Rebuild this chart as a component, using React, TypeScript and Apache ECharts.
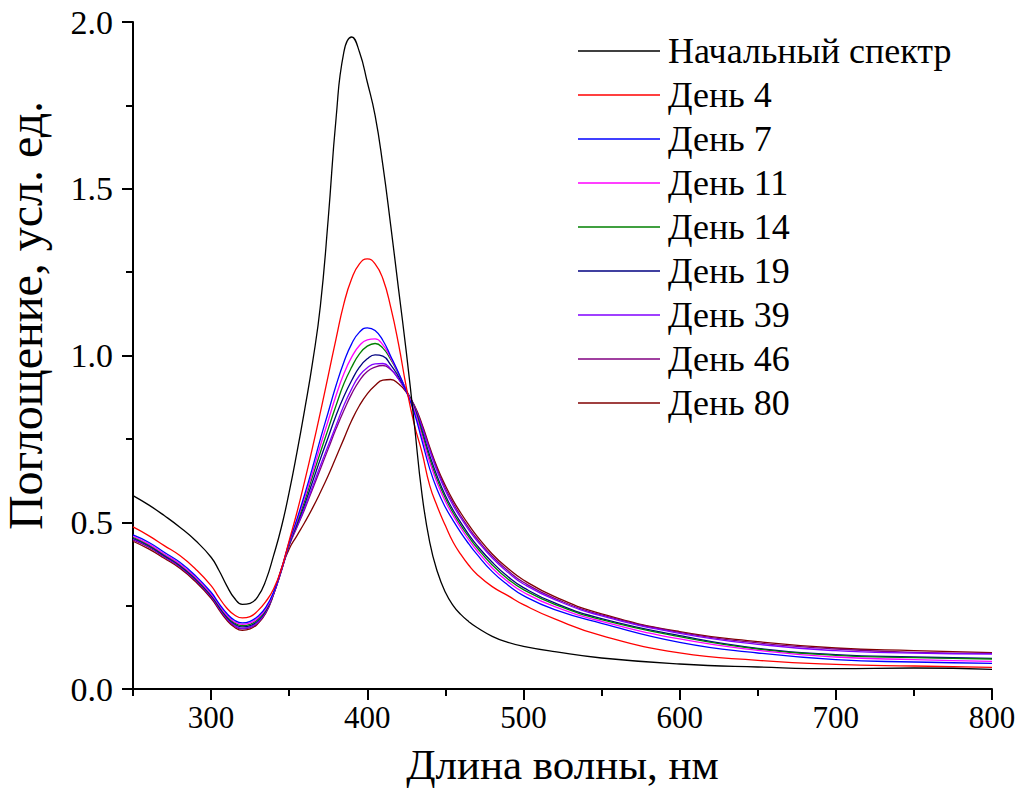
import React, { useEffect, useRef } from "react";
import * as echarts from "echarts";

const wavelengths = [250, 260, 270, 280, 290, 300, 305, 310, 315, 320, 325, 330, 335, 340, 345, 350, 355, 360, 365, 370, 375, 380, 385, 390, 395, 400, 405, 410, 415, 420, 425, 430, 435, 440, 445, 450, 455, 460, 465, 470, 480, 490, 500, 520, 550, 600, 650, 700, 750, 800];

const initial = [0.58, 0.552, 0.52, 0.485, 0.445, 0.395, 0.356, 0.31, 0.272, 0.254, 0.257, 0.278, 0.325, 0.40, 0.485, 0.59, 0.71, 0.84, 0.98, 1.15, 1.41, 1.71, 1.91, 1.955, 1.91, 1.82, 1.72, 1.57, 1.39, 1.20, 1.01, 0.80, 0.585, 0.44, 0.35, 0.29, 0.25, 0.223, 0.202, 0.185, 0.158, 0.14, 0.128, 0.112, 0.093, 0.075, 0.066, 0.061, 0.063, 0.059];
const day4 = [0.486, 0.46, 0.43, 0.40, 0.36, 0.31, 0.275, 0.243, 0.222, 0.213, 0.217, 0.235, 0.262, 0.30, 0.36, 0.445, 0.53, 0.625, 0.725, 0.83, 0.94, 1.05, 1.155, 1.23, 1.275, 1.29, 1.275, 1.23, 1.145, 1.035, 0.905, 0.795, 0.71, 0.61, 0.545, 0.49, 0.44, 0.403, 0.371, 0.345, 0.307, 0.28, 0.253, 0.21, 0.16, 0.108, 0.086, 0.074, 0.069, 0.065];
const day7 = [0.462, 0.44, 0.41, 0.38, 0.34, 0.29, 0.257, 0.227, 0.206, 0.198, 0.203, 0.218, 0.245, 0.29, 0.36, 0.44, 0.51, 0.585, 0.665, 0.75, 0.83, 0.91, 0.98, 1.035, 1.07, 1.083, 1.075, 1.045, 0.998, 0.948, 0.892, 0.83, 0.745, 0.66, 0.595, 0.545, 0.505, 0.468, 0.435, 0.405, 0.352, 0.312, 0.28, 0.238, 0.197, 0.14, 0.108, 0.088, 0.081, 0.077];
const day11 = [0.458, 0.435, 0.405, 0.375, 0.335, 0.285, 0.253, 0.222, 0.201, 0.194, 0.198, 0.213, 0.24, 0.288, 0.358, 0.438, 0.505, 0.575, 0.65, 0.73, 0.805, 0.88, 0.945, 0.995, 1.03, 1.047, 1.05, 1.032, 0.993, 0.947, 0.895, 0.838, 0.758, 0.68, 0.615, 0.562, 0.52, 0.482, 0.447, 0.416, 0.363, 0.322, 0.29, 0.247, 0.203, 0.15, 0.116, 0.096, 0.088, 0.083];
const day14 = [0.455, 0.432, 0.403, 0.373, 0.333, 0.283, 0.25, 0.219, 0.198, 0.19, 0.194, 0.209, 0.237, 0.287, 0.357, 0.436, 0.5, 0.565, 0.638, 0.71, 0.78, 0.85, 0.915, 0.965, 1.005, 1.028, 1.036, 1.022, 0.988, 0.945, 0.896, 0.842, 0.768, 0.69, 0.625, 0.572, 0.528, 0.49, 0.456, 0.425, 0.372, 0.33, 0.298, 0.254, 0.208, 0.157, 0.12, 0.101, 0.094, 0.09];
const day19 = [0.452, 0.43, 0.40, 0.37, 0.33, 0.28, 0.247, 0.216, 0.195, 0.186, 0.19, 0.205, 0.234, 0.286, 0.356, 0.434, 0.494, 0.555, 0.622, 0.69, 0.755, 0.82, 0.877, 0.925, 0.965, 0.99, 1.002, 0.998, 0.972, 0.937, 0.895, 0.845, 0.775, 0.70, 0.635, 0.58, 0.536, 0.498, 0.463, 0.432, 0.38, 0.337, 0.304, 0.258, 0.211, 0.16, 0.122, 0.103, 0.096, 0.092];
const day39 = [0.45, 0.428, 0.398, 0.368, 0.328, 0.278, 0.244, 0.213, 0.191, 0.182, 0.186, 0.201, 0.231, 0.285, 0.355, 0.432, 0.488, 0.545, 0.607, 0.67, 0.73, 0.79, 0.85, 0.90, 0.94, 0.963, 0.975, 0.976, 0.96, 0.93, 0.893, 0.848, 0.785, 0.715, 0.65, 0.595, 0.55, 0.512, 0.477, 0.446, 0.393, 0.35, 0.315, 0.268, 0.219, 0.167, 0.134, 0.115, 0.108, 0.105];
const day46 = [0.447, 0.425, 0.396, 0.366, 0.326, 0.276, 0.242, 0.211, 0.189, 0.18, 0.184, 0.199, 0.229, 0.284, 0.354, 0.43, 0.485, 0.54, 0.60, 0.66, 0.72, 0.78, 0.835, 0.885, 0.925, 0.952, 0.965, 0.97, 0.958, 0.93, 0.893, 0.85, 0.79, 0.72, 0.656, 0.602, 0.557, 0.518, 0.483, 0.452, 0.398, 0.355, 0.32, 0.272, 0.222, 0.17, 0.138, 0.12, 0.11, 0.107];
const day80 = [0.443, 0.42, 0.392, 0.362, 0.322, 0.272, 0.238, 0.207, 0.185, 0.176, 0.18, 0.196, 0.227, 0.283, 0.36, 0.42, 0.46, 0.50, 0.543, 0.59, 0.64, 0.695, 0.75, 0.805, 0.85, 0.885, 0.91, 0.926, 0.928, 0.915, 0.89, 0.852, 0.795, 0.725, 0.662, 0.61, 0.565, 0.527, 0.492, 0.46, 0.405, 0.362, 0.327, 0.277, 0.225, 0.172, 0.142, 0.123, 0.115, 0.109];

const seriesNames = ["Начальный спектр", "День 4", "День 7", "День 11", "День 14", "День 19", "День 39", "День 46", "День 80"];
const seriesValues = [initial, day4, day7, day11, day14, day19, day39, day46, day80];
const seriesColors = ["#000000", "#ff0000", "#0000ff", "#ff00ff", "#008000", "#000080", "#8000ff", "#800080", "#800000"];

const xMajorTicks = [300, 400, 500, 600, 700, 800];
const xMinorTicks = [250, 350, 450, 550, 650, 750];

const xTitle = "Длина волны, нм";
const yTitle = "Поглощение, усл. ед.";

const FONT = "'Liberation Serif', 'Times New Roman', serif";

export default function App() {
  const ref = useRef<HTMLDivElement>(null);
  useEffect(() => {
    if (!ref.current) return;
    const chart = echarts.init(ref.current, null, { renderer: "svg" });
    const series = seriesNames.map((name, i) => ({
      name,
      type: "line",
      xAxisIndex: 0,
      yAxisIndex: 0,
      data: wavelengths.map((w, j) => [w, seriesValues[i][j]]),
      smooth: 0.5,
      symbol: "none",
      lineStyle: { color: seriesColors[i], width: 1.3 },
      itemStyle: { color: seriesColors[i] },
      z: 10 - i,
    }));
    chart.setOption({
      animation: false,
      backgroundColor: "#ffffff",
      textStyle: { fontFamily: FONT },
      grid: { left: 133, right: 27, top: 22, bottom: 103, containLabel: false, outerBoundsMode: "none" },
      legend: {
        orient: "vertical",
        left: 578,
        top: 32,
        padding: 0,
        icon: "rect",
        itemWidth: 82,
        itemHeight: 1.6,
        itemGap: 6,
        data: seriesNames,
        textStyle: { fontFamily: FONT, fontSize: 36, color: "#000", lineHeight: 38, padding: [0, 0, 0, 3] },
      },
      xAxis: [
        {
          type: "value",
          min: 250,
          max: 800,
          interval: 50,
          name: xTitle,
          nameLocation: "middle",
          nameGap: 54,
          nameTextStyle: { fontFamily: FONT, fontSize: 43, color: "#000" },
          axisLine: { show: true, onZero: false, lineStyle: { color: "#000", width: 2 } },
          axisTick: { show: true, length: 11, lineStyle: { color: "#000", width: 2 }, customValues: xMajorTicks },
          axisLabel: {
            fontFamily: FONT,
            fontSize: 31,
            color: "#000",
            margin: 13,
            customValues: xMajorTicks,
            formatter: (v: number) => String(v),
          },
          splitLine: { show: false },
        },
        {
          type: "value",
          min: 250,
          max: 800,
          interval: 50,
          position: "bottom",
          axisLine: { show: false, onZero: false },
          axisTick: { show: true, length: 7, lineStyle: { color: "#000", width: 2 }, customValues: xMinorTicks },
          axisLabel: { show: false },
          splitLine: { show: false },
        },
      ],
      yAxis: {
        type: "value",
        min: 0,
        max: 2,
        interval: 0.5,
        name: yTitle,
        nameLocation: "middle",
        nameGap: 84,
        nameTextStyle: { fontFamily: FONT, fontSize: 48, color: "#000", padding: [0, 0, 0, 80] },
        axisLine: { show: true, onZero: false, lineStyle: { color: "#000", width: 2 } },
        axisTick: { show: true, length: 11, lineStyle: { color: "#000", width: 2 } },
        minorTick: { show: true, splitNumber: 2, length: 7, lineStyle: { color: "#000", width: 2 } },
        axisLabel: {
          fontFamily: FONT,
          fontSize: 34,
          color: "#000",
          margin: 20,
          formatter: (v: number) => v.toFixed(1),
        },
        splitLine: { show: false },
      },
      series,
    });
    return () => chart.dispose();
  }, []);
  return <div ref={ref} style={{ width: 1019, height: 792, position: "absolute", left: 0, top: 0, overflow: "hidden" }} />;
}
